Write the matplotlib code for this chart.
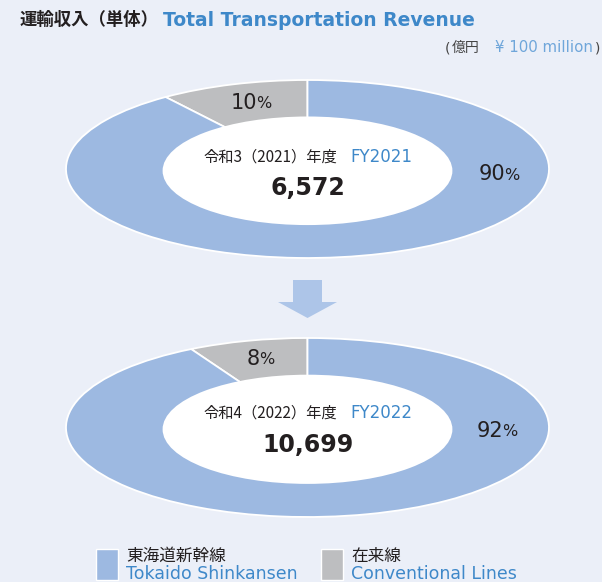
import matplotlib.pyplot as plt
from matplotlib.patches import Ellipse, Rectangle, FancyArrow

# data
years = ["令和3（2021）年度", "令和4（2022）年度"]
fy_labels = ["FY2021", "FY2022"]
totals = ["6,572", "10,699"]
conventional = [10, 8]
shinkansen = [90, 92]
legend_jp = ["東海道新幹線", "在来線"]
legend_en = ["Tokaido Shinkansen", "Conventional Lines"]

bg = "#ebeff8"
c_shin = "#9db9e1"
c_conv = "#bdbec0"
c_blue = "#3e88c9"
c_text = "#231f20"
JP = ["DejaVu Sans", "Noto Sans CJK JP"]
CJK = ["Noto Sans CJK JP", "DejaVu Sans"]

W, H = 602, 582
fig = plt.figure(figsize=(W / 100, H / 100), dpi=100)
fig.patch.set_facecolor(bg)

# donuts: bbox in pixels (left, top, right, bottom)
boxes = [(66, 80, 549, 258), (66, 338, 549, 517)]
for i, (l, t, r, b) in enumerate(boxes):
    dax = fig.add_axes([l / W, 1 - b / H, (r - l) / W, (b - t) / H])
    wedges, _ = dax.pie([conventional[i], shinkansen[i]], colors=[c_conv, c_shin],
                        startangle=90, counterclock=True,
                        wedgeprops=dict(edgecolor="white", linewidth=1.3))
    for w in wedges:
        w.set_clip_on(False)
    dax.add_patch(Ellipse((0, -0.02), 1.2, 1.22, facecolor="white", edgecolor="none", zorder=5))
    dax.set_xlim(-1, 1)
    dax.set_ylim(-1, 1)
    dax.set_aspect("auto")
    dax.axis("off")

# overlay axes in pixel units for text, arrow and legend
ax = fig.add_axes([0, 0, 1, 1])
ax.set_xlim(0, W)
ax.set_ylim(H, 0)
ax.axis("off")
ax.set_zorder(10)

# title
ax.text(20, 20, "運輸収入（単体）", fontsize=12.5, fontweight="bold", color=c_text,
        family=CJK, ha="left", va="center")
ax.text(163, 20, "Total Transportation Revenue", fontsize=13.5, fontweight="bold",
        color=c_blue, family=JP, ha="left", va="center")
ax.text(445, 48, "(", fontsize=10, color="#444444", family=JP, ha="left", va="center")
ax.text(452, 48, "億円", fontsize=10, color="#444444", family=CJK, ha="left", va="center")
ax.text(593, 48, "¥ 100 million", fontsize=10.8, color="#6fa6da", family=JP,
        ha="right", va="center")
ax.text(600, 48, ")", fontsize=10, color="#444444", family=JP, ha="right", va="center")

# labels inside / on donuts
pct_pos = [((257, 103), (505, 174)), ((260, 359), (503, 431))]
center_y = [(157, 188), (413, 445)]
for i in range(2):
    (xc, yc), (xs, ys) = pct_pos[i]
    ax.text(xc, yc, str(conventional[i]), fontsize=15, color=c_text, family=JP,
            ha="right", va="center")
    ax.text(xc - 1, yc + 1, "%", fontsize=11.5, color=c_text, family=JP, ha="left", va="center")
    ax.text(xs, ys, str(shinkansen[i]), fontsize=15, color=c_text, family=JP,
            ha="right", va="center")
    ax.text(xs - 1, ys + 1, "%", fontsize=11.5, color=c_text, family=JP, ha="left", va="center")
    y1, y2 = center_y[i]
    ax.text(337, y1, years[i], fontsize=11, color=c_text, family=CJK, ha="right", va="center")
    ax.text(350, y1, fy_labels[i], fontsize=12, color=c_blue, family=JP, ha="left", va="center")
    ax.text(308, y2, totals[i], fontsize=17, fontweight="bold", color=c_text, family=JP,
            ha="center", va="center")

# arrow between the two years
ax.add_patch(FancyArrow(307.5, 280, 0, 38, width=29, head_width=59, head_length=16,
                        length_includes_head=True, color="#adc5e8", linewidth=0))

# legend
for x0, col, jp, en in [(96, c_shin, legend_jp[0], legend_en[0]),
                        (321, c_conv, legend_jp[1], legend_en[1])]:
    ax.add_patch(Rectangle((x0, 549), 22, 31, facecolor=col, edgecolor="white", linewidth=1))
    ax.text(x0 + 30, 556, jp, fontsize=12, color=c_text, family=CJK, ha="left", va="center")
    ax.text(x0 + 30, 574, en, fontsize=12.5, color=c_blue, family=JP, ha="left", va="center")

fig.savefig("out.png", dpi=100, facecolor=bg)
